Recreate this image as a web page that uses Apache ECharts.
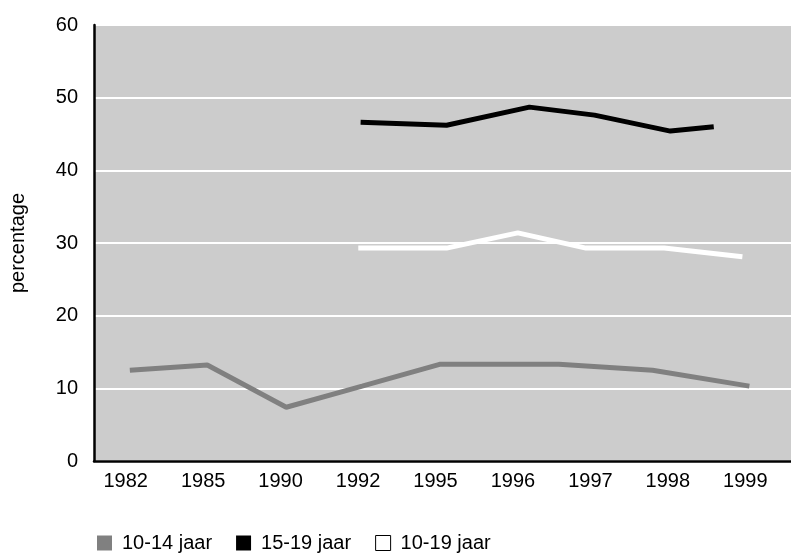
<!DOCTYPE html>
<html>
<head>
<meta charset="utf-8">
<script src="https://cdn.jsdelivr.net/npm/echarts@6/dist/echarts.min.js"></script>
<style>
  html, body { margin: 0; padding: 0; background: #fff; }
  #chart { width: 791px; height: 555px; }
</style>
</head>
<body>
<div id="chart"></div>
<script>
// tick labels on the x axis
const years = ["1982", "1985", "1990", "1992", "1995", "1996", "1997", "1998", "1999"];

// x = position along the year axis (0 = 1982 ... 8 = 1999)
const grayX = [0, 1, 2.02, 3, 4, 5.54, 6.75, 8];
const grayY = [12.5, 13.2, 7.4, 10.3, 13.3, 13.3, 12.5, 10.3];

const blackX = [2.98, 4.09, 5.16, 6.0, 6.98, 7.54];
const blackY = [46.6, 46.2, 48.7, 47.6, 45.4, 46.0];

const whiteX = [2.95, 4.09, 5.01, 5.89, 6.9, 7.91];
const whiteY = [29.3, 29.3, 31.4, 29.3, 29.3, 28.1];

const names = ["10-14 jaar", "15-19 jaar", "10-19 jaar"];

const pairs = (xs, ys) => xs.map((x, i) => [x, ys[i]]);

const font = "'Liberation Sans', Arial, sans-serif";

const myChart = echarts.init(document.getElementById("chart"));
myChart.setOption({
  animation: false,
  grid: {
    left: 93,
    right: -22,
    top: 25,
    bottom: 94,
    show: true,
    backgroundColor: "#cccccc",
    borderWidth: 0,
  },
  legend: {
    left: 92,
    top: 528,
    itemWidth: 15,
    itemHeight: 15,
    itemGap: 24,
    icon: "rect",
    textStyle: { fontFamily: font, fontSize: 20, color: "#000", padding: [0, 0, 0, 5] },
    data: [
      { name: names[0], itemStyle: { color: "#808080" } },
      { name: names[1], itemStyle: { color: "#000" } },
      { name: names[2], itemStyle: { color: "#fff", borderColor: "#000", borderWidth: 1 } },
    ],
  },
  xAxis: [
    {
      type: "category",
      data: years,
      boundaryGap: true,
      axisLine: { show: true, lineStyle: { color: "#000", width: 2.5 } },
      axisTick: { show: false },
      axisLabel: {
        fontFamily: font,
        fontSize: 20,
        color: "#000",
        margin: 10,
        padding: [0, 14, 0, 0],
      },
      splitLine: { show: false },
    },
    {
      type: "value",
      show: false,
      min: -0.4625,
      max: 8.5375,
      splitLine: { show: false },
    },
  ],
  yAxis: {
    type: "value",
    min: 0,
    max: 60,
    interval: 10,
    name: "percentage",
    nameLocation: "middle",
    nameGap: 66,
    nameTextStyle: { fontFamily: font, fontSize: 20, color: "#000" },
    axisLine: { show: true, onZero: false, lineStyle: { color: "#000", width: 2.5 } },
    axisTick: { show: false },
    axisLabel: { fontFamily: font, fontSize: 20, color: "#000", margin: 16 },
    splitLine: { show: true, lineStyle: { color: "#fff", width: 2 } },
  },
  series: [
    {
      name: names[0],
      type: "line",
      xAxisIndex: 1,
      data: pairs(grayX, grayY),
      showSymbol: false,
      lineStyle: { color: "#808080", width: 5 },
      itemStyle: { color: "#808080" },
    },
    {
      name: names[1],
      type: "line",
      xAxisIndex: 1,
      data: pairs(blackX, blackY),
      showSymbol: false,
      lineStyle: { color: "#000", width: 5 },
      itemStyle: { color: "#000" },
    },
    {
      name: names[2],
      type: "line",
      xAxisIndex: 1,
      data: pairs(whiteX, whiteY),
      showSymbol: false,
      lineStyle: { color: "#fff", width: 5 },
      itemStyle: { color: "#fff" },
    },
  ],
});
</script>
</body>
</html>
